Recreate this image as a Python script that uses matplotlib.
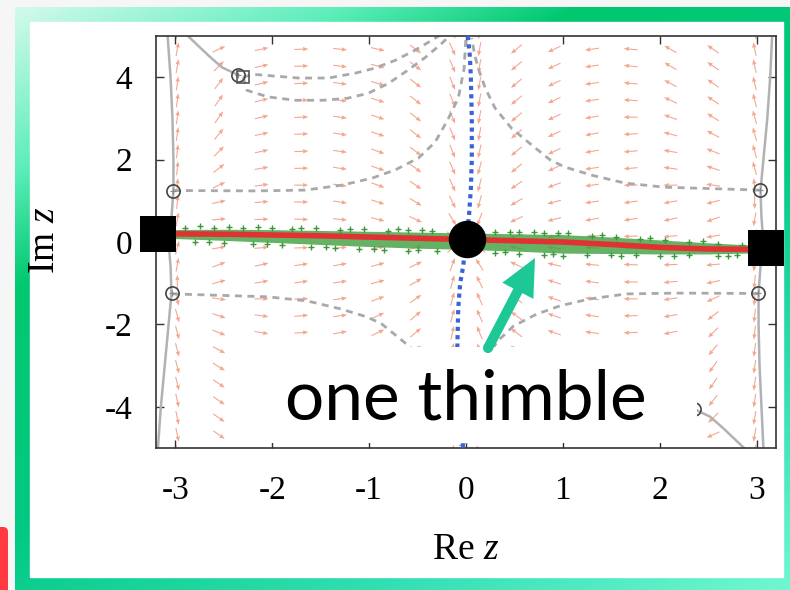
import numpy as np
import matplotlib
matplotlib.use('Agg')
import matplotlib.pyplot as plt
from matplotlib.colors import LinearSegmentedColormap
from matplotlib.patches import Rectangle, FancyBboxPatch, FancyArrow, Circle

plt.rcParams['font.family'] = 'Liberation Serif'
plt.rcParams['mathtext.fontset'] = 'custom'
plt.rcParams['mathtext.rm'] = 'Liberation Serif'
plt.rcParams['mathtext.it'] = 'Liberation Serif:italic'
plt.rcParams['axes.unicode_minus'] = False

# ── flow field: arrow centres and directions (deg, on screen) ────────────────
col_x = [-2.98, -2.55, -2.11, -1.70, -1.30, -0.91, -0.52, -0.14,
         0.14, 0.52, 0.91, 1.30, 1.70, 2.11, 2.55, 2.98]
row_y = [5.09, 4.68, 4.27, 3.85, 3.44, 3.03, 2.62, 2.20, 1.79, 1.38, 0.97, 0.55, 0.14,
         -0.14, -0.55, -0.97, -1.38, -1.79, -2.20, -2.62, -3.03, -3.44, -3.85,
         -4.27, -4.68, -5.09]

# left half only (columns -2.98 .. -0.14), top row first
angle_upper_left = [
    [80, 25, 12, 2, -6, -12, -35, -65],
    [80, 25, 12, 2, -6, -13, -36, -66],
    [80, 45, 12, 2, -7, -15, -37, -67],
    [82, 52, 14, 2, -8, -16, -38, -68],
    [82, 55, 14, 2, -8, -17, -38, -68],
    [82, 55, 13, 2, -8, -18, -38, -68],
    [82, 50, 12, 2, -8, -18, -38, -68],
    [84, 45, 12, 2, -8, -19, -37, -68],
    [84, 38, 10, 1, -8, -19, -36, -67],
    [85, 25, 8, 0, -8, -20, -35, -66],
    [85, 12, 5, 0, -8, -18, -32, -64],
    [80, 5, 2, -2, -6, -14, -25, -58],
    [60, 0, 0, -3, -4, -8, -12, -40],
]
angle_lower_left = [
    [75, 10, 5, 2, 5, 10, 15, 45],
    [80, 20, 12, 8, 10, 15, 25, 70],
    [90, 15, 10, 8, 8, 15, 30, 75],
    [-80, -8, 0, 2, 8, 20, 35, 75],
    [-75, -18, -8, 5, 8, 25, 40, 75],
    [-75, -22, -10, 5, 10, 25, 40, 78],
    [-75, -28, -15, 3, 10, 25, 40, 80],
    [-75, -32, -20, 0, 10, 25, 40, 80],
    [-76, -34, -25, -3, 8, 25, 40, 80],
    [-77, -35, -28, -5, 8, 25, 40, 80],
    [-78, -35, -30, -6, 8, 25, 40, 80],
    [-78, -35, -30, -6, 8, 25, 40, 80],
    [-78, -35, -30, -6, 8, 25, 40, 80],
]

# ── curves ───────────────────────────────────────────────────────────────────
edge_y = [5.0, 4.0, 3.0, 2.0, 1.25, 0.6, 0.0, -0.6, -1.25, -2.0, -3.0, -4.0, -5.0]
edge_left_x = [-3.08, -3.05, -3.03, -3.02, -3.02, -3.04, -3.07, -3.05, -3.04,
               -3.07, -3.11, -3.15, -3.18]
edge_right_x = [3.16, 3.14, 3.11, 3.07, 3.04, 3.05, 3.07, 3.04, 3.02, 3.02,
                3.03, 3.05, 3.07]
corner_tl_x = [-2.87, -2.66, -2.52, -2.35]
corner_tl_y = [5.0, 4.53, 4.24, 4.05]
corner_br_x = [2.35, 2.52, 2.66, 2.87]
corner_br_y = [-4.05, -4.24, -4.53, -5.0]

flow_a_x = [-3.02, -2.18, -1.66, -1.28, -0.97, -0.73, -0.49, -0.32, -0.19, -0.08, -0.02, 0.0]
flow_a_y = [1.25, 1.24, 1.26, 1.38, 1.55, 1.75, 2.04, 2.42, 2.96, 3.49, 4.2, 5.0]
flow_b_x = [3.02, 2.18, 1.66, 1.28, 0.97, 0.73, 0.49, 0.32, 0.19, 0.08, 0.02, 0.0]
flow_b_y = [-1.25, -1.24, -1.26, -1.38, -1.55, -1.75, -2.04, -2.42, -2.96, -3.49, -4.2, -5.0]
flow_c_x = [3.03, 2.05, 1.64, 1.30, 1.02, 0.87, 0.68, 0.47, 0.30, 0.20, 0.14, 0.09, 0.06]
flow_c_y = [1.26, 1.33, 1.43, 1.62, 1.82, 1.99, 2.35, 2.76, 3.25, 3.73, 4.12, 4.53, 4.95]
flow_d_x = [-3.03, -2.05, -1.64, -1.30, -1.02, -0.87, -0.68, -0.47, -0.30, -0.20, -0.14, -0.09, -0.06]
flow_d_y = [-1.26, -1.33, -1.43, -1.62, -1.82, -1.99, -2.35, -2.76, -3.25, -3.73, -4.12, -4.53, -4.95]
flow_e_x = [-2.30, -2.20, -1.73, -1.42, -1.14, -0.94, -0.73, -0.53, -0.35, -0.25]
flow_e_y = [4.0, 4.07, 3.98, 3.98, 4.10, 4.22, 4.41, 4.65, 4.90, 5.05]
flow_f_x = [-2.30, -2.26, -2.04, -1.76, -1.48, -1.22, -1.01, -0.80, -0.60, -0.42, -0.25, -0.15]
flow_f_y = [4.0, 3.68, 3.52, 3.44, 3.44, 3.49, 3.61, 3.85, 4.17, 4.48, 4.82, 5.05]

dual_x = [0.02, 0.04, 0.05, 0.06, 0.06, 0.05, 0.03, 0.0, -0.03, -0.06, -0.08,
          -0.09, -0.08, -0.06, -0.03]
dual_y = [5.0, 4.5, 4.0, 3.0, 2.0, 1.3, 0.6, 0.0, -0.6, -1.0, -1.6, -2.6, -3.5, -4.2, -5.0]

thimble_x = [-3.18, -2.5, -2.0, -1.5, -1.0, -0.5, 0.0, 0.5, 1.0, 1.5, 2.0, 2.5, 3.1]
thimble_y = [0.20, 0.19, 0.17, 0.15, 0.12, 0.09, 0.06, 0.03, 0.00, -0.06, -0.13, -0.17, -0.18]
band_upper = [0.30, 0.31, 0.30, 0.28, 0.26, 0.24, 0.22, 0.20, 0.18, 0.12, 0.05, -0.02, -0.09]
band_lower = [0.10, 0.04, -0.01, -0.06, -0.11, -0.15, -0.18, -0.22, -0.27, -0.28, -0.29, -0.29, -0.26]

sample_x = [-2.9, -2.6, -2.3, -2.0, -1.8, -1.55, -1.3, -1.05, -0.8, -0.6, -0.35, 0.3,
            0.55, 0.8, 1.05, 1.3, 1.55, 1.8, 2.05, 2.3, 2.6, 2.85, 2.95,
            -2.8, -2.5, -2.2, -1.9, -1.6, -1.35, -1.1, -0.85, -0.6, -0.3, 0.3,
            0.55, 0.8, 1.0, 1.25, 1.5, 1.75, 2.0, 2.3, 2.6, 2.8,
            -2.75, -2.45, -2.15, -1.7, -1.2, -0.7, -0.45, 0.45, 0.7, 0.95, 1.4, 1.9, 2.45,
            -2.65, -2.05, -1.45, -0.95, -0.5, 0.4, 0.9, 1.6, 2.15, 2.7]
sample_y = [0.34, 0.35, 0.33, 0.34, 0.31, 0.33, 0.29, 0.31, 0.27, 0.29, 0.26, 0.24,
            0.25, 0.21, 0.22, 0.15, 0.13, 0.08, 0.05, 0.01, -0.04, -0.07, -0.04,
            0.01, -0.03, -0.06, -0.08, -0.12, -0.15, -0.18, -0.20, -0.22, -0.23, -0.26,
            -0.29, -0.31, -0.33, -0.31, -0.32, -0.32, -0.33, -0.32, -0.33, -0.31,
            0.38, 0.37, 0.36, 0.33, 0.32, 0.31, 0.30, 0.25, 0.24, 0.22, 0.17, 0.10, 0.02,
            0.00, -0.05, -0.11, -0.16, -0.20, -0.25, -0.30, -0.34, -0.35, -0.34]

saddle_x = [-3.02, -3.04, 3.03, 3.01, -2.35, 2.35]
saddle_y = [1.25, -1.24, 1.26, -1.24, 4.05, -4.05]
pole_x = [-2.30, 2.30]
pole_y = [4.0, -4.0]

end_x = [-3.18, 3.10]
end_y = [0.19, -0.14]
crit_x = [0.01]
crit_y = [0.065]

W, H = 790, 590
fig = plt.figure(figsize=(W / 100, H / 100), dpi=100)
fig.patch.set_facecolor('#f6f6f6')

# ── slide frame (pixel coordinates) ──────────────────────────────────────────
bg = fig.add_axes([0, 0, 1, 1], zorder=-1)
bg.set_xlim(0, W)
bg.set_ylim(H, 0)
bg.axis('off')
frame_cmap = LinearSegmentedColormap.from_list(
    'frame', [(0.0, '#dcfbef'), (0.18, '#5ceeba'), (0.3, '#00c86f'),
              (0.55, '#00c982'), (0.8, '#34e0b4'), (1.0, '#70f7d2')])
gx = np.linspace(15, W, 300)
gy = np.linspace(7, H, 240)
GX, GY = np.meshgrid(gx, gy)
bg.imshow(0.4 * GX / W + 0.6 * GY / H, extent=(15, W, H, 7), cmap=frame_cmap,
          vmin=0, vmax=1, aspect='auto', interpolation='bilinear')
bg.add_patch(Rectangle((30, 22), 753, 555, color='white'))
bg.add_patch(FancyBboxPatch((-10, 527), 18, 80, boxstyle='round,pad=0,rounding_size=5',
                            color='#ff3b40', lw=0))

# ── main plot ────────────────────────────────────────────────────────────────
ax = fig.add_axes([156 / W, 1 - 448 / H, 620 / W, 412 / H])
ax.set_facecolor('white')

left = np.array(angle_upper_left + angle_lower_left, dtype=float)
right = left[::-1, ::-1] + 180      # field is odd under z -> -z
ang_deg = np.hstack([left, right])
X, Y = np.meshgrid(col_x, row_y)
ax.quiver(X.ravel(), Y.ravel(), np.ones(X.size), np.zeros(X.size),
          angles=ang_deg.ravel(), pivot='mid',
          units='dots', width=1.1, headwidth=4, headlength=5, headaxislength=4.5,
          scale_units='inches', scale=1 / 0.14, color='#ef8a6c', alpha=0.75, zorder=1)

gray = '#b2b2b2'
for cx, cy in [(edge_left_x, edge_y), (edge_right_x, edge_y),
               (corner_tl_x, corner_tl_y), (corner_br_x, corner_br_y)]:
    ax.plot(cx, cy, color=gray, lw=1.8, zorder=2)
for cx, cy in [(flow_a_x, flow_a_y), (flow_b_x, flow_b_y), (flow_c_x, flow_c_y),
               (flow_d_x, flow_d_y), (flow_e_x, flow_e_y), (flow_f_x, flow_f_y)]:
    ax.plot(cx, cy, color='#a9a9a9', lw=2, dashes=(2.5, 2), zorder=2)

ax.plot(dual_x, dual_y, color='#3a63d8', lw=3, dashes=(1, 1), zorder=3)

ax.fill_between(thimble_x, band_lower, band_upper, color='#3f9f3f', alpha=0.8,
                lw=0, zorder=4)
ax.plot(sample_x, sample_y, '+', color='#3a983a', ms=4, mew=1, zorder=4)
ax.plot(thimble_x, thimble_y, color='#e03232', lw=4, zorder=5)

ax.plot(saddle_x, saddle_y, 'o', mfc='none', mec='#444444', ms=9.5, mew=1.2, zorder=6)
ax.plot(saddle_x, saddle_y, '+', color='#888888', ms=5, mew=0.8, zorder=6)
ax.plot(pole_x, pole_y, 's', mfc='none', mec='#555555', ms=9, mew=1.2, zorder=6)

ax.plot(end_x, end_y, 's', color='black', ms=25.5, mew=0, clip_on=False, zorder=8)
ax.plot(crit_x, crit_y, 'o', color='black', ms=27, mew=0, clip_on=False, zorder=8)

ax.set_xlim(-3.2, 3.2)
ax.set_ylim(-5, 5)
ax.set_xticks([-3, -2, -1, 0, 1, 2, 3])
ax.set_yticks([-4, -2, 0, 2, 4])
ax.tick_params(direction='in', top=True, right=True, length=6, width=1,
               color='#333333', labelsize=24)
ax.tick_params(axis='x', pad=20)
ax.tick_params(axis='y', pad=17)
for s in ax.spines.values():
    s.set_color('#333333')
    s.set_linewidth(1.2)

ax.set_xlabel('Re $z$', fontsize=27, va='center', ha='center')
ax.set_ylabel('Im $z$', fontsize=27, va='center', ha='center')
ax.xaxis.set_label_coords(0.5, -0.248)
ax.yaxis.set_label_coords(-0.179, 0.505)

# ── slide overlay: caption box and arrow ─────────────────────────────────────
ov = fig.add_axes([0, 0, 1, 1], zorder=5)
ov.set_xlim(0, W)
ov.set_ylim(H, 0)
ov.axis('off')
ov.add_patch(Rectangle((246, 347), 451, 96, color='white', lw=0))
ov.text(466, 420, 'one thimble', ha='center', va='baseline', fontsize=50,
        family=['Lato', 'DejaVu Sans'], color='black')
teal = '#1ec796'
ov.add_patch(FancyArrow(488, 348, 535 - 488, 258 - 348, width=10, head_width=35,
                        head_length=37, length_includes_head=True, color=teal, lw=0))
ov.add_patch(Circle((488, 348), 5, color=teal, lw=0))

fig.savefig('out.png', dpi=100)
